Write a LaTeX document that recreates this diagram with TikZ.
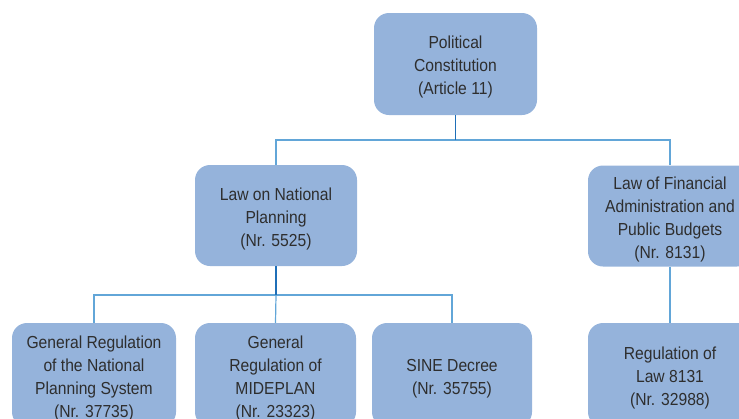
\documentclass[tikz,border=0pt]{standalone}
\usepackage{fontspec}
\setmainfont{Liberation Sans}[FakeStretch=0.9]
\definecolor{boxfill}{HTML}{95B3DB}
\definecolor{txt}{HTML}{2E2E2E}
\definecolor{stem}{HTML}{1F6FB8}
\definecolor{branch}{HTML}{62A6D8}
\newcommand\boxtext[1]{\raisebox{-3pt}[\height][\depth]{\begin{tabular}{@{}c@{}}#1\end{tabular}}}
\begin{document}
\begin{tikzpicture}[x=1pt,y=-1pt,
  orgbox/.style={fill=boxfill, draw=none, rounded corners=15pt,
    text=txt, inner sep=0pt, minimum height=102pt,
    font=\fontsize{17.4}{23}\selectfont},
  conn/.style={draw=branch, line width=1.2pt},
  stemline/.style={draw=stem, line width=1.2pt}]
\useasboundingbox (0,0) rectangle (739,418);
\node[orgbox, minimum width=163pt] (top) at (455.5,64) {\boxtext{Political\\Constitution\\(Article 11)}};
\node[orgbox, minimum width=162pt, minimum height=101pt] (law) at (276,215.5) {\boxtext{Law on National\\Planning\\(Nr. 5525)}};
\node[orgbox, minimum width=164pt, minimum height=101pt] (fin) at (670,216) {\boxtext{Law of Financial\\Administration and\\Public Budgets\\(Nr. 8131)}};
\node[orgbox, minimum width=164pt, minimum height=104pt] (b1) at (94,375) {\boxtext{General Regulation\\of the National\\Planning System\\(Nr. 37735)}};
\node[orgbox, minimum width=161pt, minimum height=104pt] (b2) at (275.5,375) {\boxtext{General\\Regulation of\\MIDEPLAN\\(Nr. 23323)}};
\node[orgbox, minimum width=160pt, minimum height=104pt] (b3) at (452,375) {\boxtext{SINE Decree\\(Nr. 35755)}};
\node[orgbox, minimum width=164pt, minimum height=104pt] (b4) at (670,375) {\boxtext{Regulation of\\Law 8131\\(Nr. 32988)}};
\coordinate (j1) at (455.5,140);
\coordinate (j2) at (276,295);
\draw[conn] (law.north) |- (j1) -| (fin.north);
\draw[stemline] (top.south) -- (j1);
\draw[conn] (b1.north) |- (j2) -| (b3.north);
\draw[conn] (b2.north) -- (j2);
\draw[stemline] (law.south) -- (j2);
\draw[conn] (fin.south) -- (b4.north);
\end{tikzpicture}
\end{document}
